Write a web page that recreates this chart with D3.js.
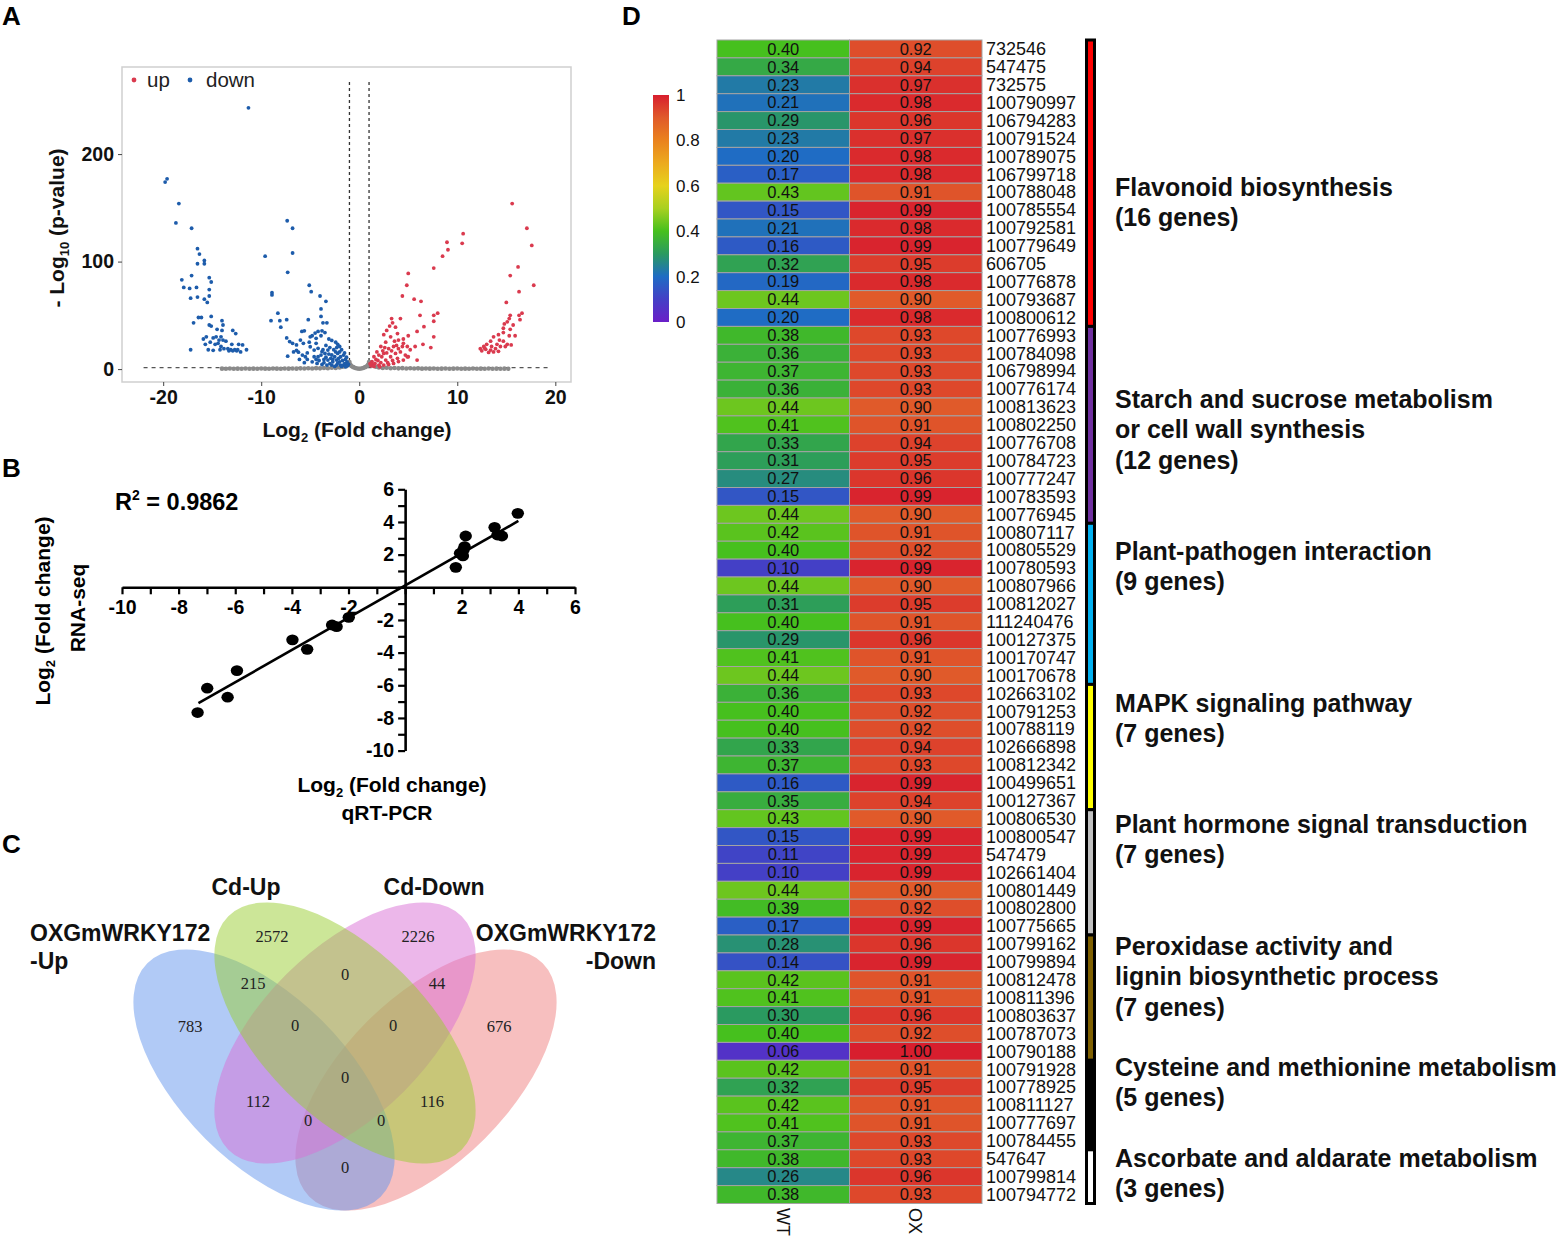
<!DOCTYPE html>
<html>
<head>
<meta charset="utf-8">
<script src="https://cdn.jsdelivr.net/npm/d3@7"></script>
<style>
body{margin:0;background:#fff}
svg{display:block}
text{font-family:"Liberation Sans",Arial,sans-serif}
</style>
</head>
<body>
<svg id="fig" width="1560" height="1239"></svg>
<script>
// ---------- A: volcano (log2 fold change, -log10 p) ----------
var downPts = [[-11.3,243],[-19.8,174],[-19.6,177],[-18.4,154],[-18.7,136],[-17.1,131],
 [-16.5,112],[-16.3,107],[-15.8,101],[-15.8,98],[-16.5,98],[-17.1,87],[-18.1,83],[-15.3,85],[-15.1,81],
 [-17.9,76],[-17.3,75],[-16.6,76],[-15.3,74],[-17.2,66],[-16.5,67],[-15.8,65],[-15.3,68],[-15.5,62],
 [-16.4,48],[-16.1,48],[-15.1,49],[-16.9,43],[-15.3,41],[-15.1,40],[-14.0,45],[-14.5,37],[-14.0,36],[-13.9,41],[-12.9,36],[-12.6,33],
 [-15.9,28],[-15.6,30],[-14.9,29],[-14.6,30],[-14.1,30],[-13.9,27],
 [-15.7,23],[-15.2,25],[-14.7,23],[-14.4,24],[-14.1,21],[-13.8,19],[-13.4,19],[-13.1,18],[-12.7,18],
 [-17.2,18],[-15.4,18],[-14.9,17.5],[-12.3,23],[-11.9,22.5],[-11.5,18],[-12.1,16],[-12.4,18],[-13.0,23],[-13.6,26],[-14.3,27],
 [-13.3,17],[-12.9,17],[-12.5,17],[-14.2,18],
 [-7.35,138],[-6.8,131],[-6.8,108],[-9.6,105],[-7.3,90],[-8.9,71],[-8.9,69],[-5.1,78],[-4.9,72],[-4.0,68],[-3.4,63],[-3.9,56],[-3.9,49],
 [-8.3,52],[-9.0,45],[-8.1,45],[-7.4,46],[-8.0,39],[-5.2,46],[-3.7,43],[-3.3,43],
 [-5.85,35],[-5.6,35.6],[-4.8,31],[-4.5,33.5],[-4.2,35],[-3.8,35.6],[-3.5,34],[-3.9,31],[-4.4,28.6],[-5.0,30],
 [-7.4,29],[-7.1,25.6],[-6.8,24],[-6.4,22.5],[-6.4,17.5],[-6.2,15.7],[-5.8,13],[-5.3,15],
 [-3.1,28],[-2.8,26.7],[-2.4,25],[-2.2,23],[-2.0,21],[-1.8,18],
 [-5.0,20.8],[-4.6,17.7],[-4.2,19.3],[-3.8,16.2],[-3.5,14.6],[-3.2,17.7],[-2.8,13.1],[-2.5,11.5],[-2.2,14.6],[-1.9,11.5],
 [-1.4,9],[-1.25,6.8],[-1.3,5.3],[-2.0,6.8],[-2.3,8.4],[-2.7,6.8],[-3.2,8.4],[-3.6,9],[-4.2,11.5],[-4.6,11.5],[-5.3,9],
 [-5.5,11.5],[-4.8,6.8],[-4.3,5.3],[-3.8,4.3],[-3.3,3.7],[-2.8,3.7],[-2.3,3.7],[-1.9,3.7],[-1.6,3.7],[-1.1,4.5],
 [-2.6,18],[-3.0,20],[-3.4,22],[-2.0,16],[-1.6,13],[-1.5,15],[-2.4,16],[-2.9,10],[-3.4,11],[-3.9,13],[-4.4,9],
 [-1.7,8],[-2.1,10],[-1.5,5],[-1.8,2.5],[-2.5,2.5],[-3.0,5],[-3.6,6],[-4.1,8],[-5.6,6],[-6.1,9],[-6.7,16],[-7.3,12],
 [-1.3,11],[-1.4,2.2],[-2.2,5.5],[-2.7,9],[-3.1,14],[-3.7,18],[-4.4,24],[-5.1,25],[-2.3,20],[-1.2,3],[-6.0,27],[-5.7,24]];
var upPts = [[15.6,154],[17.1,131],[17.6,115],[16.2,95],[15.4,87],[17.8,78],[16.3,72],[15.0,62],[16.6,52],[16.3,50],[16.4,46],
 [15.4,50],[15.3,47],[15.1,44],[14.8,42],[15.7,41],[14.7,38],[15.4,37],[14.7,34],[14.2,32],[15.9,31],[13.7,30],[15.3,31],
 [14.3,27],[14.7,26],[15.1,23],[15.5,22.5],[13.4,26],[13.0,23],[12.7,21],[12.35,19],[12.9,18.4],[13.4,17.7],[13.9,19],
 [14.4,21],[13.7,16],[14.05,23],[14.9,21],[13.5,21],[12.5,17],[13.2,15.5],[14.2,16.5],[12.8,19.5],
 [10.6,126],[10.5,117],[8.95,118],[9.05,111],[8.5,105],[7.6,94],[5.0,89],[4.85,78],[4.4,68],[5.6,65],[6.3,63],[8.0,52],
 [7.6,50],[6.2,50],[7.6,44.5],[4.2,47],[3.3,47],[6.6,39.5],[5.9,35],[7.6,30],[7.3,20],[6.5,23],[5.7,21],[5.9,8.4],
 [3.4,43],[3.7,39],[3.1,40],[2.8,36],[2.5,32],[3.2,30],[3.9,33],[4.0,27],[4.5,24],[4.9,21],[5.2,18],[2.7,25],[2.2,21],
 [1.8,16],[1.5,11.5],[1.3,7],[1.6,5.3],[2.2,6],[2.7,8.4],[3.2,11.5],[3.7,14.6],[4.2,16],[4.7,13],[5.0,11.5],[4.5,8.4],
 [4.0,7],[3.5,5.3],[3.0,4.3],[2.5,3.7],[2.0,3.7],[1.4,4.3],[2.5,14.6],[3.0,19],[3.5,21],[4.0,19],[4.4,21],[2.3,11.5],
 [1.9,8],[4.5,28],[5.0,31],[4.9,11.5],[3.6,26],[2.4,17],[2.0,13],[1.7,9],[2.9,6],[3.4,8],[3.9,10],[1.2,3],[1.5,2.5],
 [2.1,2.2],[2.8,15],[3.3,17],[3.8,22],[1.1,5],[2.6,20]];
var nsPts = [[-14.0,0.4],[-13.6,0.3],[-13.2,0.5],[-12.8,0.3],[-12.4,0.4],[-12.0,0.3],[-11.6,0.5],[-11.2,0.3],[-10.8,0.4],
 [-10.4,0.3],[-10.0,0.5],[-9.6,0.4],[-9.2,0.3],[-8.8,0.5],[-8.4,0.4],[-8.0,0.3],[-7.6,0.5],[-7.2,0.4],[-6.8,0.6],[-6.4,0.4],
 [-6.0,0.7],[-5.6,0.5],[-5.2,0.8],[-4.8,0.6],[-4.4,0.9],[-4.0,0.7],[-3.6,1.0],[-3.2,0.8],[-2.8,1.2],[-2.4,1.0],[-2.0,1.5],
 [-1.7,2.2],[-1.5,3.0],[-1.3,4.0],[-1.15,5.0],[-1.0,6.5],[-0.9,4.0],[-0.8,2.8],[-0.6,1.8],[-0.4,1.0],[-0.2,0.5],[0,0.3],
 [0.2,0.5],[0.4,1.0],[0.6,1.8],[0.8,2.8],[0.9,4.0],[1.0,6.5],[1.15,5.0],[1.3,4.0],[1.5,3.0],[1.7,2.2],[2.0,1.5],[2.4,1.0],
 [2.8,1.2],[3.2,0.8],[3.6,1.0],[4.0,0.7],[4.4,0.9],[4.8,0.6],[5.2,0.8],[5.6,0.5],[6.0,0.7],[6.4,0.4],[6.8,0.6],[7.2,0.4],
 [7.6,0.5],[8.0,0.3],[8.4,0.4],[8.8,0.5],[9.2,0.3],[9.6,0.4],[10.0,0.5],[10.4,0.3],[10.8,0.4],[11.2,0.3],[11.6,0.5],[12.0,0.3],
 [12.4,0.4],[12.8,0.3],[13.2,0.5],[13.6,0.3],[14.0,0.4],[14.4,0.3],[14.8,0.4],[15.2,0.3]];
var volcanoXTicks = [-20,-10,0,10,20];
var volcanoYTicks = [0,100,200];

// ---------- B: qRT-PCR vs RNA-seq ----------
var qpcr   = [-7.33,-6.99,-6.27,-5.94,-3.98,-3.46,-2.58,-2.42,-1.99,1.79,1.94,2.04,2.10,2.14,2.06,3.16,3.26,3.42,3.98];
var rnaseq = [-7.67,-6.18,-6.73,-5.10,-3.22,-3.80,-2.31,-2.41,-1.84,1.22,2.08,1.92,2.49,3.14,2.29,3.67,3.20,3.14,4.53];
var fitLine = [[-7.3,-7.1],[4.0,4.06]];
var r2 = "0.9862";

// ---------- C: Venn ----------
var vennSets = ["OXGmWRKY172-Up","Cd-Up","Cd-Down","OXGmWRKY172-Down"];
var vennColors = ["#6495ED","#9ACD32","#DA70D6","#F08080"];
// order: A, B, C, D, AB, BC, CD, AC, BD, AD, ABC, BCD, ABD, ACD, ABCD
var vennCounts = [783,2572,2226,676,215,0,44,112,116,0,0,0,0,0,0];

// ---------- D: heatmap ----------
var geneIds = ["732546","547475","732575","100790997","106794283","100791524","100789075","106799718","100788048","100785554",
 "100792581","100779649","606705","100776878","100793687","100800612","100776993","100784098","106798994","100776174",
 "100813623","100802250","100776708","100784723","100777247","100783593","100776945","100807117","100805529","100780593",
 "100807966","100812027","111240476","100127375","100170747","100170678","102663102","100791253","100788119","102666898",
 "100812342","100499651","100127367","100806530","100800547","547479","102661404","100801449","100802800","100775665",
 "100799162","100799894","100812478","100811396","100803637","100787073","100790188","100791928","100778925","100811127",
 "100777697","100784455","547647","100799814","100794772"];
var wtVals = [0.40,0.34,0.23,0.21,0.29,0.23,0.20,0.17,0.43,0.15,0.21,0.16,0.32,0.19,0.44,0.20,
 0.38,0.36,0.37,0.36,0.44,0.41,0.33,0.31,0.27,0.15,0.44,0.42,0.40,0.10,0.44,0.31,0.40,0.29,0.41,0.44,
 0.36,0.40,0.40,0.33,0.37,0.16,0.35,0.43,0.15,0.11,0.10,0.44,0.39,0.17,0.28,0.14,0.42,0.41,0.30,0.40,
 0.06,0.42,0.32,0.42,0.41,0.37,0.38,0.26,0.38];
var oxVals = [0.92,0.94,0.97,0.98,0.96,0.97,0.98,0.98,0.91,0.99,0.98,0.99,0.95,0.98,0.90,0.98,
 0.93,0.93,0.93,0.93,0.90,0.91,0.94,0.95,0.96,0.99,0.90,0.91,0.92,0.99,0.90,0.95,0.91,0.96,0.91,0.90,
 0.93,0.92,0.92,0.94,0.93,0.99,0.94,0.90,0.99,0.99,0.99,0.90,0.92,0.99,0.96,0.99,0.91,0.91,0.96,0.92,
 1.00,0.91,0.95,0.91,0.91,0.93,0.93,0.96,0.93];
var samples = ["WT","OX"];
var pathwayRows = [16,11,9,7,7,7,5,3];
var pathwayColors = ["#ff0000","#7030a0","#00b0f0","#ffff00","#c0c0c0","#7f6000","#000000","#ffffff"];
var pathwayLabels = [["Flavonoid biosynthesis","(16 genes)"],
 ["Starch and sucrose metabolism","or cell wall synthesis","(12 genes)"],
 ["Plant-pathogen interaction","(9 genes)"],
 ["MAPK signaling pathway","(7 genes)"],
 ["Plant hormone signal transduction","(7 genes)"],
 ["Peroxidase activity and","lignin biosynthetic process","(7 genes)"],
 ["Cysteine and methionine metabolism","(5 genes)"],
 ["Ascorbate and aldarate metabolism","(3 genes)"]];
var legendTicks = [0,0.2,0.4,0.6,0.8,1];
var colorStops = [0,0.1,0.2,0.3,0.4,0.5,0.6,0.7,0.8,0.9,1];
var colorRange = ["#6a1ec8","#4440c6","#1f6cc4","#2a9a60","#46c01e","#a8d020","#e6d21c","#ecaa1e","#ea821e","#e05a2a","#d81e2e"];

var svg = d3.select("#fig");
var BOLD = "bold";

// panel letters
[["A",2,25],["B",2,477],["C",2,853],["D",622,25]].forEach(function(p){
  svg.append("text").attr("x",p[1]).attr("y",p[2]).attr("font-size",26).attr("font-weight",BOLD).text(p[0]);
});

// ===== Panel A =====
var ax = d3.scaleLinear().domain([-24.2,21.6]).range([122,571]);
var ay = d3.scaleLinear().domain([-12,281]).range([382,67]);
var gA = svg.append("g");
gA.append("rect").attr("x",122).attr("y",67).attr("width",449).attr("height",315)
  .attr("fill","none").attr("stroke","#cfcfcf").attr("stroke-width",1.5);

var axL = gA.append("g").attr("transform","translate(122,0)")
  .call(d3.axisLeft(ay).tickValues(volcanoYTicks).tickSize(4).tickPadding(4).tickFormat(function(d){return String(d);}));
var axB = gA.append("g").attr("transform","translate(0,382)")
  .call(d3.axisBottom(ax).tickValues(volcanoXTicks).tickSize(4).tickPadding(4).tickFormat(function(d){return String(d);}));
[axL,axB].forEach(function(g){
  g.select(".domain").remove();
  g.selectAll(".tick line").attr("stroke","#444");
  g.selectAll(".tick text").attr("font-size",19.5).attr("font-weight",BOLD).attr("fill","#111")
    .attr("font-family","'Liberation Sans',Arial,sans-serif");
});

// threshold lines
gA.append("line").attr("x1",ax(-22)).attr("x2",ax(19.6)).attr("y1",ay(1.3)).attr("y2",ay(1.3))
  .attr("stroke","#555").attr("stroke-width",1.3).attr("stroke-dasharray","4,4");
[-1,1].forEach(function(v){
  gA.append("line").attr("x1",ax(v)).attr("x2",ax(v)).attr("y1",ay(267)).attr("y2",ay(0))
    .attr("stroke","#333").attr("stroke-width",1.3).attr("stroke-dasharray","3,3");
});

gA.append("g").selectAll("circle").data(nsPts).enter().append("circle")
  .attr("cx",function(d){return ax(d[0]);}).attr("cy",function(d){return ay(d[1]);})
  .attr("r",2.3).attr("fill","#8a8a8a");
gA.append("g").selectAll("circle").data(downPts).enter().append("circle")
  .attr("cx",function(d){return ax(d[0]);}).attr("cy",function(d){return ay(d[1]);})
  .attr("r",1.9).attr("fill","#1d5cab");
gA.append("g").selectAll("circle").data(upPts).enter().append("circle")
  .attr("cx",function(d){return ax(d[0]);}).attr("cy",function(d){return ay(d[1]);})
  .attr("r",1.9).attr("fill","#da3a4e");

// legend
gA.append("circle").attr("cx",134).attr("cy",80).attr("r",2.4).attr("fill","#da3a4e");
gA.append("text").attr("x",147).attr("y",87).attr("font-size",20.5).attr("fill","#222").text("up");
gA.append("circle").attr("cx",190).attr("cy",80).attr("r",2.4).attr("fill","#1d5cab");
gA.append("text").attr("x",206).attr("y",87).attr("font-size",20.5).attr("fill","#222").text("down");

// titles
var tA = gA.append("text").attr("x",357).attr("y",437).attr("text-anchor","middle")
  .attr("font-size",21).attr("font-weight",BOLD).attr("fill","#111");
tA.append("tspan").text("Log");
tA.append("tspan").attr("font-size",13).attr("dy",5).text("2");
tA.append("tspan").attr("dy",-5).text(" (Fold change)");
var tAy = gA.append("text").attr("transform","translate(64,228) rotate(-90)").attr("text-anchor","middle")
  .attr("font-size",21).attr("font-weight",BOLD).attr("fill","#111");
tAy.append("tspan").text("- Log");
tAy.append("tspan").attr("font-size",13).attr("dy",5).text("10");
tAy.append("tspan").attr("dy",-5).text(" (p-value)");

// ===== Panel B =====
var bx = d3.scaleLinear().domain([-10,6]).range([122,575]);
var by = d3.scaleLinear().domain([-10,6]).range([750.6,489.3]);
var gB = svg.append("g");
var bTicks = d3.range(-10,7);
var labFmt = function(d){ return (d % 2 === 0 && d !== 0) ? String(d) : ""; };
var bxAxis = gB.append("g").attr("transform","translate(0," + by(0) + ")")
  .call(d3.axisBottom(bx).tickValues(bTicks).tickSize(7).tickSizeOuter(0).tickPadding(6).tickFormat(labFmt));
var byAxis = gB.append("g").attr("transform","translate(" + bx(0) + ",0)")
  .call(d3.axisLeft(by).tickValues(bTicks).tickSize(7).tickSizeOuter(0).tickPadding(4).tickFormat(labFmt));
[bxAxis,byAxis].forEach(function(g){
  g.select(".domain").attr("stroke","#000").attr("stroke-width",2.6);
  g.selectAll(".tick line").attr("stroke","#000").attr("stroke-width",2.2);
  g.selectAll(".tick text").attr("font-size",19.5).attr("font-weight",BOLD).attr("fill","#000")
    .attr("font-family","'Liberation Sans',Arial,sans-serif");
});

gB.append("line").attr("x1",bx(fitLine[0][0])).attr("y1",by(fitLine[0][1]))
  .attr("x2",bx(fitLine[1][0])).attr("y2",by(fitLine[1][1]))
  .attr("stroke","#000").attr("stroke-width",2.6);
gB.append("g").selectAll("ellipse").data(qpcr).enter().append("ellipse")
  .attr("cx",function(d){return bx(d);}).attr("cy",function(d,i){return by(rnaseq[i]);})
  .attr("rx",6.2).attr("ry",5.4).attr("fill","#000");

var tR = gB.append("text").attr("x",115).attr("y",510).attr("font-size",23.5).attr("font-weight",BOLD);
tR.append("tspan").text("R");
tR.append("tspan").attr("font-size",14).attr("dy",-10).text("2");
tR.append("tspan").attr("dy",10).text(" = " + r2);

var tBx = gB.append("text").attr("x",392).attr("y",792).attr("text-anchor","middle").attr("font-size",21).attr("font-weight",BOLD);
tBx.append("tspan").text("Log");
tBx.append("tspan").attr("font-size",13).attr("dy",5).text("2");
tBx.append("tspan").attr("dy",-5).text(" (Fold change)");
gB.append("text").attr("x",387).attr("y",820).attr("text-anchor","middle").attr("font-size",21).attr("font-weight",BOLD).text("qRT-PCR");
var tBy = gB.append("text").attr("transform","translate(50,611) rotate(-90)").attr("text-anchor","middle").attr("font-size",21).attr("font-weight",BOLD);
tBy.append("tspan").text("Log");
tBy.append("tspan").attr("font-size",13).attr("dy",5).text("2");
tBy.append("tspan").attr("dy",-5).text(" (Fold change)");
gB.append("text").attr("transform","translate(85,608) rotate(-90)").attr("text-anchor","middle").attr("font-size",21).attr("font-weight",BOLD).text("RNA-seq");

// ===== Panel C =====
var gC = svg.append("g");
var ell = [ {cx:264,cy:1080,rot:45}, {cx:345,cy:1033,rot:45}, {cx:345,cy:1033,rot:-45}, {cx:426,cy:1080,rot:-45} ];
var drawOrder = [3,0,2,1];
gC.selectAll("ellipse").data(drawOrder).enter().append("ellipse")
  .attr("transform",function(i){return "translate(" + ell[i].cx + "," + ell[i].cy + ") rotate(" + ell[i].rot + ")";})
  .attr("rx",165).attr("ry",83)
  .attr("fill",function(i){return vennColors[i];}).attr("fill-opacity",0.5);
var regionPos = [[190,1027],[272,937],[418,937],[499,1027],[253,984],[345,975],[437,984],[258,1102],[432,1102],
  [345,1168],[295,1026],[393,1026],[381,1121],[308,1121],[345,1078]];
gC.selectAll("text.cnt").data(vennCounts).enter().append("text").attr("class","cnt")
  .attr("x",function(d,i){return regionPos[i][0];}).attr("y",function(d,i){return regionPos[i][1] + 5;})
  .attr("text-anchor","middle").attr("font-size",16.5).attr("fill","#222")
  .style("font-family","'Liberation Serif','Times New Roman',serif")
  .text(function(d){return d;});
function catLabel(lines, x, y, anchor){
  lines.forEach(function(s, k){
    gC.append("text").attr("x",x).attr("y",y + k*28).attr("text-anchor",anchor)
      .attr("font-size",23).attr("font-weight",BOLD).attr("fill","#111").text(s);
  });
}
catLabel(["OXGmWRKY172","-Up"], 30, 941, "start");
catLabel(["Cd-Up"], 246, 895, "middle");
catLabel(["Cd-Down"], 434, 895, "middle");
catLabel(["OXGmWRKY172","-Down"], 656, 941, "end");

// ===== Panel D =====
var gD = svg.append("g");
var color = d3.scaleLinear().domain(colorStops).range(colorRange);
var rowY = d3.scaleBand().domain(d3.range(geneIds.length)).range([40,1203.5]);
var colX = d3.scaleBand().domain(samples).range([717,982]);
var cells = [];
geneIds.forEach(function(id,i){
  cells.push({row:i, s:"WT", v:wtVals[i]});
  cells.push({row:i, s:"OX", v:oxVals[i]});
});
gD.selectAll("rect.cell").data(cells).enter().append("rect").attr("class","cell")
  .attr("x",function(d){return colX(d.s);}).attr("y",function(d){return rowY(d.row);})
  .attr("width",colX.bandwidth()).attr("height",rowY.bandwidth())
  .attr("fill",function(d){return color(d.v);}).attr("stroke","#a3a3a3").attr("stroke-width",1);
gD.selectAll("text.val").data(cells).enter().append("text").attr("class","val")
  .attr("x",function(d){return colX(d.s) + colX.bandwidth()/2;})
  .attr("y",function(d){return rowY(d.row) + rowY.bandwidth()/2 + 5.8;})
  .attr("text-anchor","middle").attr("font-size",16.5).attr("fill","#111")
  .text(function(d){return d.v.toFixed(2);});
gD.selectAll("text.gid").data(geneIds).enter().append("text").attr("class","gid")
  .attr("x",986).attr("y",function(d,i){return rowY(i) + rowY.bandwidth()/2 + 6.3;})
  .attr("font-size",18).attr("fill","#111").text(function(d){return d;});
samples.forEach(function(s){
  gD.append("text").attr("transform","translate(" + (colX(s) + colX.bandwidth()/2) + ",1208) rotate(90)")
    .attr("dy","0.35em").attr("font-size",18).attr("fill","#111").text(s);
});

// pathway side bar
var start = 0;
pathwayRows.forEach(function(n,k){
  var y0 = rowY(start), y1 = rowY(start + n - 1) + rowY.bandwidth();
  gD.append("rect").attr("x",1086.5).attr("y",y0).attr("width",8).attr("height",y1 - y0)
    .attr("fill",pathwayColors[k]).attr("stroke","#000").attr("stroke-width",3);
  start += n;
});
var labelTop = [187,399,551,703,824,946,1067,1158];
pathwayLabels.forEach(function(lines,k){
  lines.forEach(function(s,j){
    gD.append("text").attr("x",1115).attr("y",labelTop[k] + j*30.6 + 8.8)
      .attr("font-size",25).attr("font-weight",BOLD).attr("fill","#111").text(s);
  });
});

// colour legend
var defs = svg.append("defs");
var grad = defs.append("linearGradient").attr("id","cbar").attr("x1",0).attr("y1",1).attr("x2",0).attr("y2",0);
grad.selectAll("stop").data(colorStops).enter().append("stop")
  .attr("offset",function(d){return d;}).attr("stop-color",function(d,i){return colorRange[i];});
var ly = d3.scaleLinear().domain([0,1]).range([322,95]);
gD.append("rect").attr("x",653).attr("y",95).attr("width",16).attr("height",227).attr("fill","url(#cbar)");
var lg = gD.append("g").attr("transform","translate(669,0)")
  .call(d3.axisRight(ly).tickValues(legendTicks).tickSize(0).tickPadding(7)
    .tickFormat(function(d){return d === 0 ? "0" : d === 1 ? "1" : d.toFixed(1);}));
lg.select(".domain").remove();
lg.selectAll(".tick text").attr("font-size",17).attr("fill","#111").attr("font-family","'Liberation Sans',Arial,sans-serif");
</script>
</body>
</html>
